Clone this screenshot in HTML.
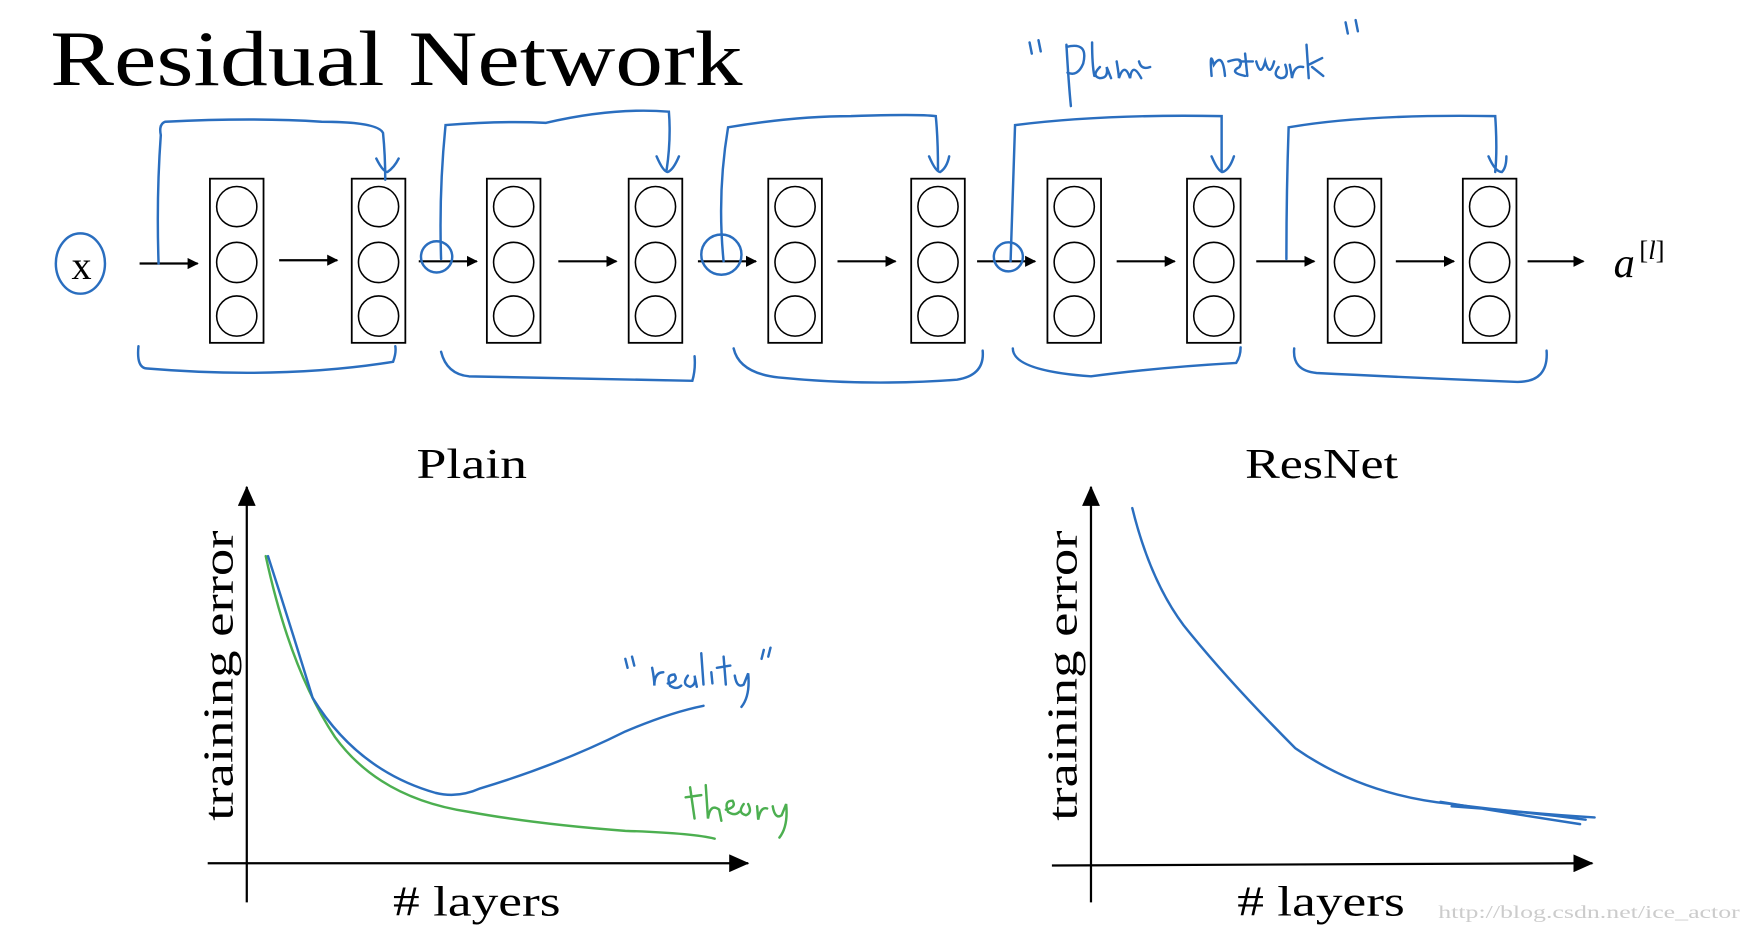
<!DOCTYPE html>
<html><head><style>
html,body{margin:0;padding:0;background:#fff}
svg{display:block}
</style></head><body>
<svg width="1742" height="928" viewBox="0 0 1560 831" preserveAspectRatio="none" xmlns="http://www.w3.org/2000/svg">
<defs>
<marker id="ah" markerWidth="10" markerHeight="10" refX="9" refY="5" orient="auto" markerUnits="userSpaceOnUse"><path d="M0,0 L10,5 L0,10 Z" fill="#000"/></marker>
<marker id="ax" markerWidth="18" markerHeight="16" refX="17" refY="8" orient="auto" markerUnits="userSpaceOnUse"><path d="M0,0 L18,8 L0,16 Z" fill="#000"/></marker>
</defs>
<text x="45" y="76" font-family="Liberation Serif, serif" font-size="70" textLength="620" lengthAdjust="spacingAndGlyphs">Residual Network</text>
<g fill="none" stroke="#2a6ebf" stroke-width="2.2" stroke-linecap="round">
<path d="M922,38 l2,10 M930,36 l2,10 M955,40 q2,35 4,55 M955,42 q20,-5 15,15 q-5,12 -14,8 M978,38 q0,20 2,30 M985,60 q-8,8 0,10 q8,0 6,-10 l4,10 M1000,55 q2,12 2,15 q5,-15 10,0 q2,-15 10,0 M1020,55 q2,8 10,5"/>
<path d="M1085,68 q-2,-25 2,-10 q8,-12 10,10 M1100,55 q15,-5 10,5 q-10,5 5,8 M1115,48 l2,20 M1110,55 l12,0 M1125,55 q4,15 8,0 q4,15 8,0 M1145,60 q-6,8 2,10 q8,0 4,-12 M1155,58 q2,10 2,12 q2,-12 10,-10 M1170,40 l2,30 M1172,58 l12,-6 M1175,60 l10,8 M1205,20 l2,10 M1214,18 l2,10"/>
</g>
<g fill="none" stroke="#000" stroke-width="1.6">
<rect x="188" y="160" width="48" height="147"/><rect x="315" y="160" width="48" height="147"/>
<rect x="436" y="160" width="48" height="147"/><rect x="563" y="160" width="48" height="147"/>
<rect x="688" y="160" width="48" height="147"/><rect x="816" y="160" width="48" height="147"/>
<rect x="938" y="160" width="48" height="147"/><rect x="1063" y="160" width="48" height="147"/>
<rect x="1189" y="160" width="48" height="147"/><rect x="1310" y="160" width="48" height="147"/>
</g>
<g fill="none" stroke="#000" stroke-width="1.4">
<g id="c"><circle cx="212" cy="185" r="18"/><circle cx="212" cy="235" r="18"/><circle cx="212" cy="283" r="18"/></g>
<use href="#c" x="127"/><use href="#c" x="248"/><use href="#c" x="375"/><use href="#c" x="500"/><use href="#c" x="628"/><use href="#c" x="750"/><use href="#c" x="875"/><use href="#c" x="1001"/><use href="#c" x="1122"/>
</g>
<g stroke="#000" stroke-width="2" marker-end="url(#ah)">
<line x1="125" y1="236" x2="177" y2="236"/><line x1="250" y1="233" x2="302" y2="233"/>
<line x1="375" y1="234" x2="427" y2="234"/><line x1="500" y1="234" x2="552" y2="234"/>
<line x1="625" y1="234" x2="677" y2="234"/><line x1="750" y1="234" x2="802" y2="234"/>
<line x1="875" y1="234" x2="927" y2="234"/><line x1="1000" y1="234" x2="1052" y2="234"/>
<line x1="1125" y1="234" x2="1177" y2="234"/><line x1="1250" y1="234" x2="1302" y2="234"/>
<line x1="1368" y1="234" x2="1418" y2="234"/>
</g>
<text x="64" y="250" font-family="Liberation Serif, serif" font-size="36">x</text>
<text x="1445" y="248" font-family="Liberation Serif, serif" font-style="italic" font-size="38">a</text>
<text x="1468" y="232" font-family="Liberation Serif, serif" font-size="24">[<tspan font-style="italic">l</tspan>]</text>
<g fill="none" stroke="#2a6ebf" stroke-width="2.2" stroke-linecap="round">
<ellipse cx="72" cy="236" rx="22" ry="27"/>
<path d="M142,236 q-2,-60 2,-115 q-2,-10 4,-12 q80,-4 140,0 q50,0 55,10 q2,20 2,42 M337,142 q6,12 10,12 q6,-4 10,-12"/>
<path d="M395,232 q-2,-60 4,-120 q50,-4 90,-2 q60,-14 110,-10 q2,25 -2,52 M588,140 q6,14 10,14 q5,-2 10,-14"/>
<path d="M648,234 q-6,-60 4,-120 q60,-10 110,-10 q60,-2 76,0 q2,20 2,48 M832,140 q6,14 10,14 q6,-4 8,-14"/>
<path d="M905,234 q2,-60 4,-122 q80,-10 185,-8 q0,30 0,50 M1085,140 q6,14 10,14 q6,-2 10,-14"/>
<path d="M1152,232 q0,-60 2,-118 q70,-12 185,-10 q2,30 0,50 M1333,140 q6,14 12,14 q4,-4 4,-14"/>
<circle cx="391" cy="230" r="14"/><circle cx="646" cy="228" r="18"/><circle cx="903" cy="230" r="13"/>
<path d="M124,310 q-2,20 8,20 q120,10 220,-6 q3,-8 2,-14"/>
<path d="M395,315 q5,20 25,22 q100,2 200,4 q3,-10 2,-22"/>
<path d="M657,312 q5,22 40,26 q80,8 160,2 q25,-4 23,-26"/>
<path d="M907,312 q0,20 70,25 q60,-8 130,-12 q4,-6 4,-14"/>
<path d="M1159,312 q-2,20 20,22 q80,4 180,8 q28,0 26,-28"/>
</g>
<text x="373" y="428" font-family="Liberation Serif, serif" font-size="38" textLength="99" lengthAdjust="spacingAndGlyphs">Plain</text>
<text x="1115" y="428" font-family="Liberation Serif, serif" font-size="38" textLength="137" lengthAdjust="spacingAndGlyphs">ResNet</text>
<g stroke="#000" stroke-width="2">
<line x1="221" y1="808" x2="221" y2="436" marker-end="url(#ax)"/>
<line x1="186" y1="773" x2="670" y2="773" marker-end="url(#ax)"/>
<line x1="977" y1="808" x2="977" y2="436" marker-end="url(#ax)"/>
<line x1="942" y1="775" x2="1426" y2="773" marker-end="url(#ax)"/>
</g>
<text transform="translate(208,735) rotate(-90)" font-family="Liberation Serif, serif" font-size="38" textLength="260" lengthAdjust="spacingAndGlyphs">training error</text>
<text transform="translate(964,735) rotate(-90)" font-family="Liberation Serif, serif" font-size="38" textLength="260" lengthAdjust="spacingAndGlyphs">training error</text>
<text x="352" y="820" font-family="Liberation Serif, serif" font-size="38" textLength="150" lengthAdjust="spacingAndGlyphs"># layers</text>
<text x="1108" y="820" font-family="Liberation Serif, serif" font-size="38" textLength="150" lengthAdjust="spacingAndGlyphs"># layers</text>
<text x="1288" y="822" font-family="Liberation Serif, serif" font-size="16" fill="#ccc" textLength="270" lengthAdjust="spacingAndGlyphs">http://blog.csdn.net/ice_actor</text>
<g fill="none" stroke-width="2.2" stroke-linecap="round">
<path stroke="#4caf50" d="M238,498 Q260,600 300,660 Q340,715 420,727 Q480,738 560,744 Q620,746 640,751"/>
<path stroke="#2a6ebf" d="M240,498 Q260,560 280,625 Q320,690 390,710 Q410,715 430,706 Q500,685 560,655 Q600,638 630,632"/>
<path stroke="#4caf50" d="M618,705 l4,28 M614,714 l14,-2 M632,703 l2,30 q2,-14 10,-8 l2,10 M650,725 q10,-2 6,-8 q-8,0 -4,10 q6,4 10,0 M666,720 q-6,8 2,10 q6,-2 2,-10 M678,722 l1,12 q2,-12 8,-10 M692,722 q2,12 8,8 l4,-10 q2,20 -6,30"/>
<path stroke="#2a6ebf" d="M560,590 l2,8 M566,588 l2,8 M584,598 q2,10 2,16 q0,-12 8,-12 M598,612 q10,-2 6,-8 q-8,0 -4,10 q6,4 10,0 M616,605 q-6,8 2,10 q6,-2 4,-10 l2,10 M628,585 l2,28 M637,602 l1,10 M648,588 l2,25 M642,598 l12,-2 M658,605 q2,12 8,8 l4,-10 q2,20 -6,30 M684,582 l-2,8 M690,580 l-2,8"/>
<path stroke="#2a6ebf" d="M1014,455 Q1030,520 1060,560 Q1100,610 1160,670 Q1220,712 1300,720 Q1360,728 1428,732"/>
<path stroke="#2a6ebf" d="M1290,718 Q1350,728 1415,738 M1300,722 Q1360,726 1420,734"/>
</g>
</svg>
</body></html>
